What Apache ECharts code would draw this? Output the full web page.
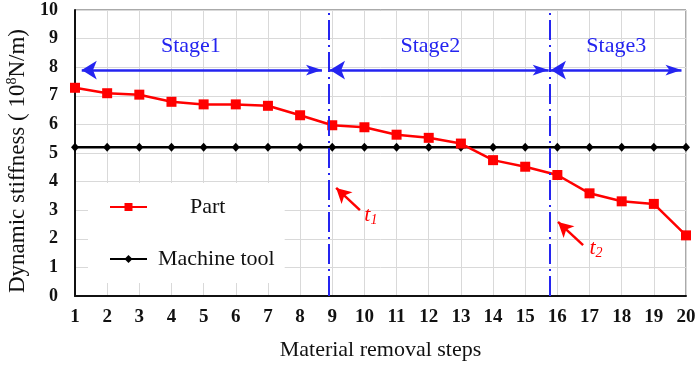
<!DOCTYPE html>
<html>
<head>
<meta charset="utf-8">
<script src="https://cdn.jsdelivr.net/npm/echarts@6/dist/echarts.min.js"></script>
<style>html,body{margin:0;padding:0;background:#fff}#c{width:700px;height:367px}</style>
</head>
<body>
<div id="c"></div>
<script>
var steps = [1,2,3,4,5,6,7,8,9,10,11,12,13,14,15,16,17,18,19,20];
var partValues = [7.28,7.09,7.04,6.79,6.70,6.70,6.65,6.32,5.97,5.90,5.64,5.53,5.33,4.75,4.52,4.23,3.59,3.31,3.22,2.12];
var machineValues = [5.2,5.2,5.2,5.2,5.2,5.2,5.2,5.2,5.2,5.2,5.2,5.2,5.2,5.2,5.2,5.2,5.2,5.2,5.2,5.2];
var yTicks = [0,1,2,3,4,5,6,7,8,9,10];
var stageNames = ['Stage1','Stage2','Stage3'];
var stageRanges = [[1.21,8.68],[8.93,15.73],[15.80,19.86]];
var stageArrowY = 7.9;
var stageDividers = [8.88,15.75];
var tArrows = [ [[9.86,3.0],[9.12,3.78]], [[16.8,1.78],[16.02,2.59]] ];
var tLabels = [ {sub:'1', at:[10.2,2.8]}, {sub:'2', at:[17.2,1.64]} ];

var serif = 'Liberation Serif';
var blue = '#2424f0';
var red = '#ff0000';

function pairs(xs, ys){ return xs.map(function(x,i){ return [x, ys[i]]; }); }

var markLineData = [];
stageDividers.forEach(function(x){
  markLineData.push([
    {coord:[x,yTicks[0]], symbol:'none', lineStyle:{color:blue,width:2,type:[20,5,2,5]}, label:{show:false}},
    {coord:[x,yTicks[yTicks.length-1]], symbol:'none'}
  ]);
});
stageRanges.forEach(function(r,i){
  markLineData.push([
    {coord:[r[0],stageArrowY], symbol:'arrow', symbolSize:[14,15],
     lineStyle:{color:blue,width:2.5,type:'solid'},
     label:{show:true, position:'middle', distance:13, formatter:stageNames[i], color:blue,
            fontFamily:serif, fontSize:22, offset:[i===0?-11:(i===1?-9:0),0]}},
    {coord:[r[1],stageArrowY], symbol:'arrow'}
  ]);
});
tArrows.forEach(function(a){
  markLineData.push([
    {coord:a[0], symbol:'none', lineStyle:{color:red,width:2.5,type:'solid'}, label:{show:false}},
    {coord:a[1], symbol:'arrow', symbolSize:[12,15]}
  ]);
});

var markPointData = tLabels.map(function(t){
  return {coord:t.at, symbol:'circle', symbolSize:0,
    label:{show:true, position:'inside', formatter:'{i|t}{s|'+t.sub+'}',
      rich:{ i:{fontFamily:serif, fontStyle:'italic', fontSize:22, color:red, lineHeight:22, padding:[0,0,2,0]},
             s:{fontFamily:serif, fontStyle:'italic', fontSize:14, color:red, lineHeight:14, verticalAlign:'bottom'} }}};
});

var chart = echarts.init(document.getElementById('c'), null, {renderer:'canvas'});
chart.setOption({
  animation:false,
  backgroundColor:'#fff',
  grid:{left:75, right:14, top:10, bottom:71, containLabel:false, outerBoundsMode:'none',
        show:true, borderColor:'#555', borderWidth:1},
  legend:{
    orient:'vertical', left:88, top:183,
    data:['Part','Machine tool'],
    backgroundColor:'#fff',
    padding:[12,10,12,21],
    itemWidth:37, itemHeight:10, itemGap:28,
    textStyle:{fontFamily:serif, fontSize:22, color:'#111', lineHeight:24,
      rich:{p:{fontFamily:serif,fontSize:22,color:'#111',padding:[0,0,0,38]},
            m:{fontFamily:serif,fontSize:22,color:'#111',padding:[0,0,0,6]}}},
    formatter:function(n){ return n==='Part' ? '{p|Part}' : '{m|Machine tool}'; }
  },
  xAxis:{
    type:'value', min:steps[0], max:steps[steps.length-1], interval:1,
    name:'Material removal steps', nameLocation:'middle', nameGap:43,
    nameTextStyle:{fontFamily:serif, fontSize:22, color:'#111'},
    axisLine:{lineStyle:{color:'#111', width:2}},
    axisTick:{show:false},
    axisLabel:{fontFamily:serif, fontWeight:'bold', fontSize:19, color:'#111', margin:12},
    splitLine:{show:true, lineStyle:{color:'#d9d9d9', width:1}}
  },
  yAxis:{
    type:'value', min:yTicks[0], max:yTicks[yTicks.length-1], interval:1,
    name:'{a|Dynamic stiffness ( 10}{s|8}{a|N/m)}', nameLocation:'middle', nameGap:46,
    nameTextStyle:{fontFamily:serif, fontSize:23, color:'#111', padding:[0,16,0,0],
      rich:{a:{fontFamily:serif,fontSize:23,color:'#111',lineHeight:23,padding:[2,0,0,0]},
            s:{fontFamily:serif,fontSize:14,color:'#111',lineHeight:14,verticalAlign:'top'}}},
    axisLine:{show:true, lineStyle:{color:'#111', width:2}},
    axisTick:{show:false},
    axisLabel:{fontFamily:serif, fontWeight:'bold', fontSize:18, color:'#111', margin:17},
    splitLine:{show:true, lineStyle:{color:'#d9d9d9', width:1}}
  },
  series:[
    {name:'Machine tool', type:'line', data:pairs(steps, machineValues), symbol:'diamond', symbolSize:[8,9],
     lineStyle:{color:'#000', width:2.5}, itemStyle:{color:'#000'}, z:3},
    {name:'Part', type:'line', data:pairs(steps, partValues), symbol:'rect', symbolSize:10,
     lineStyle:{color:red, width:2.5}, itemStyle:{color:red}, z:4,
     markLine:{silent:true, animation:false, data:markLineData},
     markPoint:{silent:true, animation:false, data:markPointData}}
  ]
});
</script>
</body>
</html>
